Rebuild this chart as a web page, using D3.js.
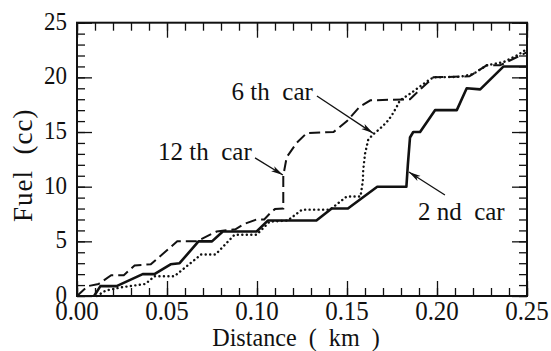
<!DOCTYPE html>
<html>
<head>
<meta charset="utf-8">
<script src="https://cdn.jsdelivr.net/npm/d3@7"></script>
<style>
  body { margin: 0; background: #fff; }
</style>
</head>
<body>
<figure id="fuelChart" style="margin:0"></figure>
<script>
// fuel used vs distance, three cars of the platoon  [distance km, fuel cc]
const car2 = [[0.0095,0],[0.013,0.9],[0.022,0.9],[0.0365,2],[0.043,2],[0.052,2.9],[0.057,3],[0.0675,5],[0.075,5],[0.081,5.9],[0.0998,5.9],[0.106,6.9],[0.133,6.9],[0.1415,8],[0.1505,8],[0.1668,10],[0.183,10],[0.1838,12],[0.185,14.5],[0.1868,15],[0.1906,15],[0.1989,17],[0.211,17],[0.2165,19],[0.224,18.9],[0.237,21],[0.25,21]];

const car6 = [[0.011,0],[0.016,0.5],[0.025,0.8],[0.038,1.1],[0.043,1.8],[0.054,1.8],[0.06,2.6],[0.069,3.8],[0.077,3.8],[0.0875,5.6],[0.0998,5.6],[0.107,6.8],[0.117,6.9],[0.125,7.9],[0.1406,7.9],[0.1498,9.1],[0.1575,9.1],[0.1588,10.5],[0.159,11.5],[0.16,13],[0.1618,14.3],[0.1646,14.8],[0.1683,15.3],[0.172,15.9],[0.1748,16.5],[0.1776,17.3],[0.1794,17.9],[0.185,18.5],[0.19,19.1],[0.195,19.7],[0.198,20],[0.2128,20.05],[0.22,20.3],[0.2276,21.1],[0.237,21.4],[0.2443,22],[0.25,22.6]];

const car12 = [[0,0],[0.006,0.9],[0.012,1.1],[0.019,1.9],[0.026,1.9],[0.032,2.8],[0.041,2.9],[0.0557,5],[0.0665,5],[0.0776,5.9],[0.088,6.1],[0.093,6.6],[0.0998,7],[0.104,7],[0.108,7.7],[0.11,7.95],[0.1146,8],[0.1146,11],[0.1165,12.7],[0.122,14],[0.1276,14.9],[0.1425,15],[0.15,16],[0.157,17.3],[0.163,17.9],[0.185,18],[0.192,19.1],[0.198,20],[0.218,20.1],[0.2276,21.1],[0.235,21.1],[0.25,22.3]];

const xTicks = [0, 0.05, 0.10, 0.15, 0.20, 0.25];
const xTickLabels = ["0.00", "0.05", "0.10", "0.15", "0.20", "0.25"];
const yTicks = [0, 5, 10, 15, 20, 25];

// callouts: label anchor + arrow tail/head, in data units
const callouts = [
  { text: "12 th  car", at: [0.045, 12.44], from: [0.0989, 12.63], to: [0.1144, 11.07] },
  { text: "6 th  car", at: [0.0859, 17.93], from: [0.1333, 18.3], to: [0.1644, 14.9] },
  { text: "2 nd  car", at: [0.1894, 6.95], from: [0.2044, 9.24], to: [0.1844, 11.34] }
];

const FONT = "'Liberation Serif', 'Times New Roman', 'DejaVu Serif', serif";
const W = 551, H = 351;
const margin = { top: 22.7, right: 24, bottom: 55, left: 77 };
const innerW = W - margin.left - margin.right;
const innerH = H - margin.top - margin.bottom;

const svg = d3.select("figure#fuelChart")
  .append("svg")
  .attr("width", W)
  .attr("height", H)
  .attr("font-family", FONT);

svg.append("defs").append("marker")
  .attr("id", "head")
  .attr("viewBox", "0 0 12 8")
  .attr("refX", 12).attr("refY", 4)
  .attr("markerWidth", 12).attr("markerHeight", 8)
  .attr("markerUnits", "userSpaceOnUse")
  .attr("orient", "auto")
  .append("path")
  .attr("d", "M0,1 L12,4 L0,7 L3,4 Z")
  .attr("fill", "#111");

const g = svg.append("g")
  .attr("transform", `translate(${margin.left},${margin.top})`);

const x = d3.scaleLinear().domain([0, 0.25]).range([0, innerW]);
const y = d3.scaleLinear().domain([0, 25]).range([innerH, 0]);

// inward ticks on all four sides, minor + major
function ticks(axisFn, scale, minorVals, majorVals, transform) {
  g.append("g").attr("transform", transform)
    .call(axisFn(scale).tickValues(minorVals).tickSize(-8).tickSizeOuter(0).tickFormat(""));
  g.append("g").attr("transform", transform)
    .call(axisFn(scale).tickValues(majorVals).tickSize(-15).tickSizeOuter(0).tickFormat(""));
}
const xMinor = d3.range(0, 26).map(i => i / 100);
const yMinor = d3.range(0, 26);
ticks(d3.axisBottom, x, xMinor, xTicks, `translate(0,${innerH})`);
ticks(d3.axisTop, x, xMinor, xTicks, "translate(0,0)");
ticks(d3.axisLeft, y, yMinor, yTicks, "translate(0,0)");
ticks(d3.axisRight, y, yMinor, yTicks, `translate(${innerW},0)`);

g.selectAll(".domain").remove();
g.selectAll(".tick line").attr("stroke", "#111").attr("stroke-width", 1.3);

g.append("rect")
  .attr("width", innerW).attr("height", innerH)
  .attr("fill", "none").attr("stroke", "#111").attr("stroke-width", 2);

// tick labels
g.selectAll(".xlab")
  .data(xTicks)
  .enter().append("text")
  .attr("class", "xlab")
  .attr("text-anchor", "middle")
  .attr("font-family", FONT)
  .attr("font-size", 25)
  .attr("fill", "#111")
  .attr("transform", d => `translate(${x(d)},${innerH + 23.5}) scale(1,1.12)`)
  .text((d, i) => xTickLabels[i]);

g.selectAll(".ylab")
  .data(yTicks)
  .enter().append("text")
  .attr("class", "ylab")
  .attr("text-anchor", "end")
  .attr("font-family", FONT)
  .attr("font-size", 23)
  .attr("fill", "#111")
  .attr("transform", d => `translate(-10,${y(d) + 7}) scale(1,1.1)`)
  .text(d => d);

// axis titles
g.append("text")
  .attr("text-anchor", "middle")
  .attr("font-family", FONT)
  .attr("font-size", 23)
  .attr("fill", "#111")
  .style("white-space", "pre")
  .attr("transform", `translate(${innerW / 2 - 6},${innerH + 49.5}) scale(1.05,1.05)`)
  .text("Distance  (  km  )");

g.append("text")
  .attr("text-anchor", "middle")
  .attr("font-family", FONT)
  .attr("font-size", 27)
  .attr("letter-spacing", 1)
  .attr("fill", "#111")
  .style("white-space", "pre")
  .attr("transform", `translate(${-margin.left + 32},${innerH / 2 + 6}) rotate(-90)`)
  .text("Fuel  (cc)");

// series
const line = d3.line().x(d => x(d[0])).y(d => y(d[1]));

g.append("path").datum(car12)
  .attr("d", line).attr("fill", "none")
  .attr("stroke", "#111").attr("stroke-width", 2)
  .attr("stroke-dasharray", "11,5");

g.append("path").datum(car6)
  .attr("d", line).attr("fill", "none")
  .attr("stroke", "#111").attr("stroke-width", 2.4)
  .attr("stroke-linecap", "round")
  .attr("stroke-dasharray", "0.1,4.4");

g.append("path").datum(car2)
  .attr("d", line).attr("fill", "none")
  .attr("stroke", "#111").attr("stroke-width", 2.6)
  .attr("stroke-linejoin", "round");

// callouts
callouts.forEach(c => {
  g.append("text")
    .attr("font-family", FONT)
    .attr("font-size", 25)
    .attr("fill", "#111")
    .style("white-space", "pre")
    .attr("transform", `translate(${x(c.at[0])},${y(c.at[1])})`)
    .text(c.text);
  g.append("line")
    .attr("x1", x(c.from[0])).attr("y1", y(c.from[1]))
    .attr("x2", x(c.to[0])).attr("y2", y(c.to[1]))
    .attr("stroke", "#111").attr("stroke-width", 1.3)
    .attr("marker-end", "url(#head)");
});
</script>
</body>
</html>
